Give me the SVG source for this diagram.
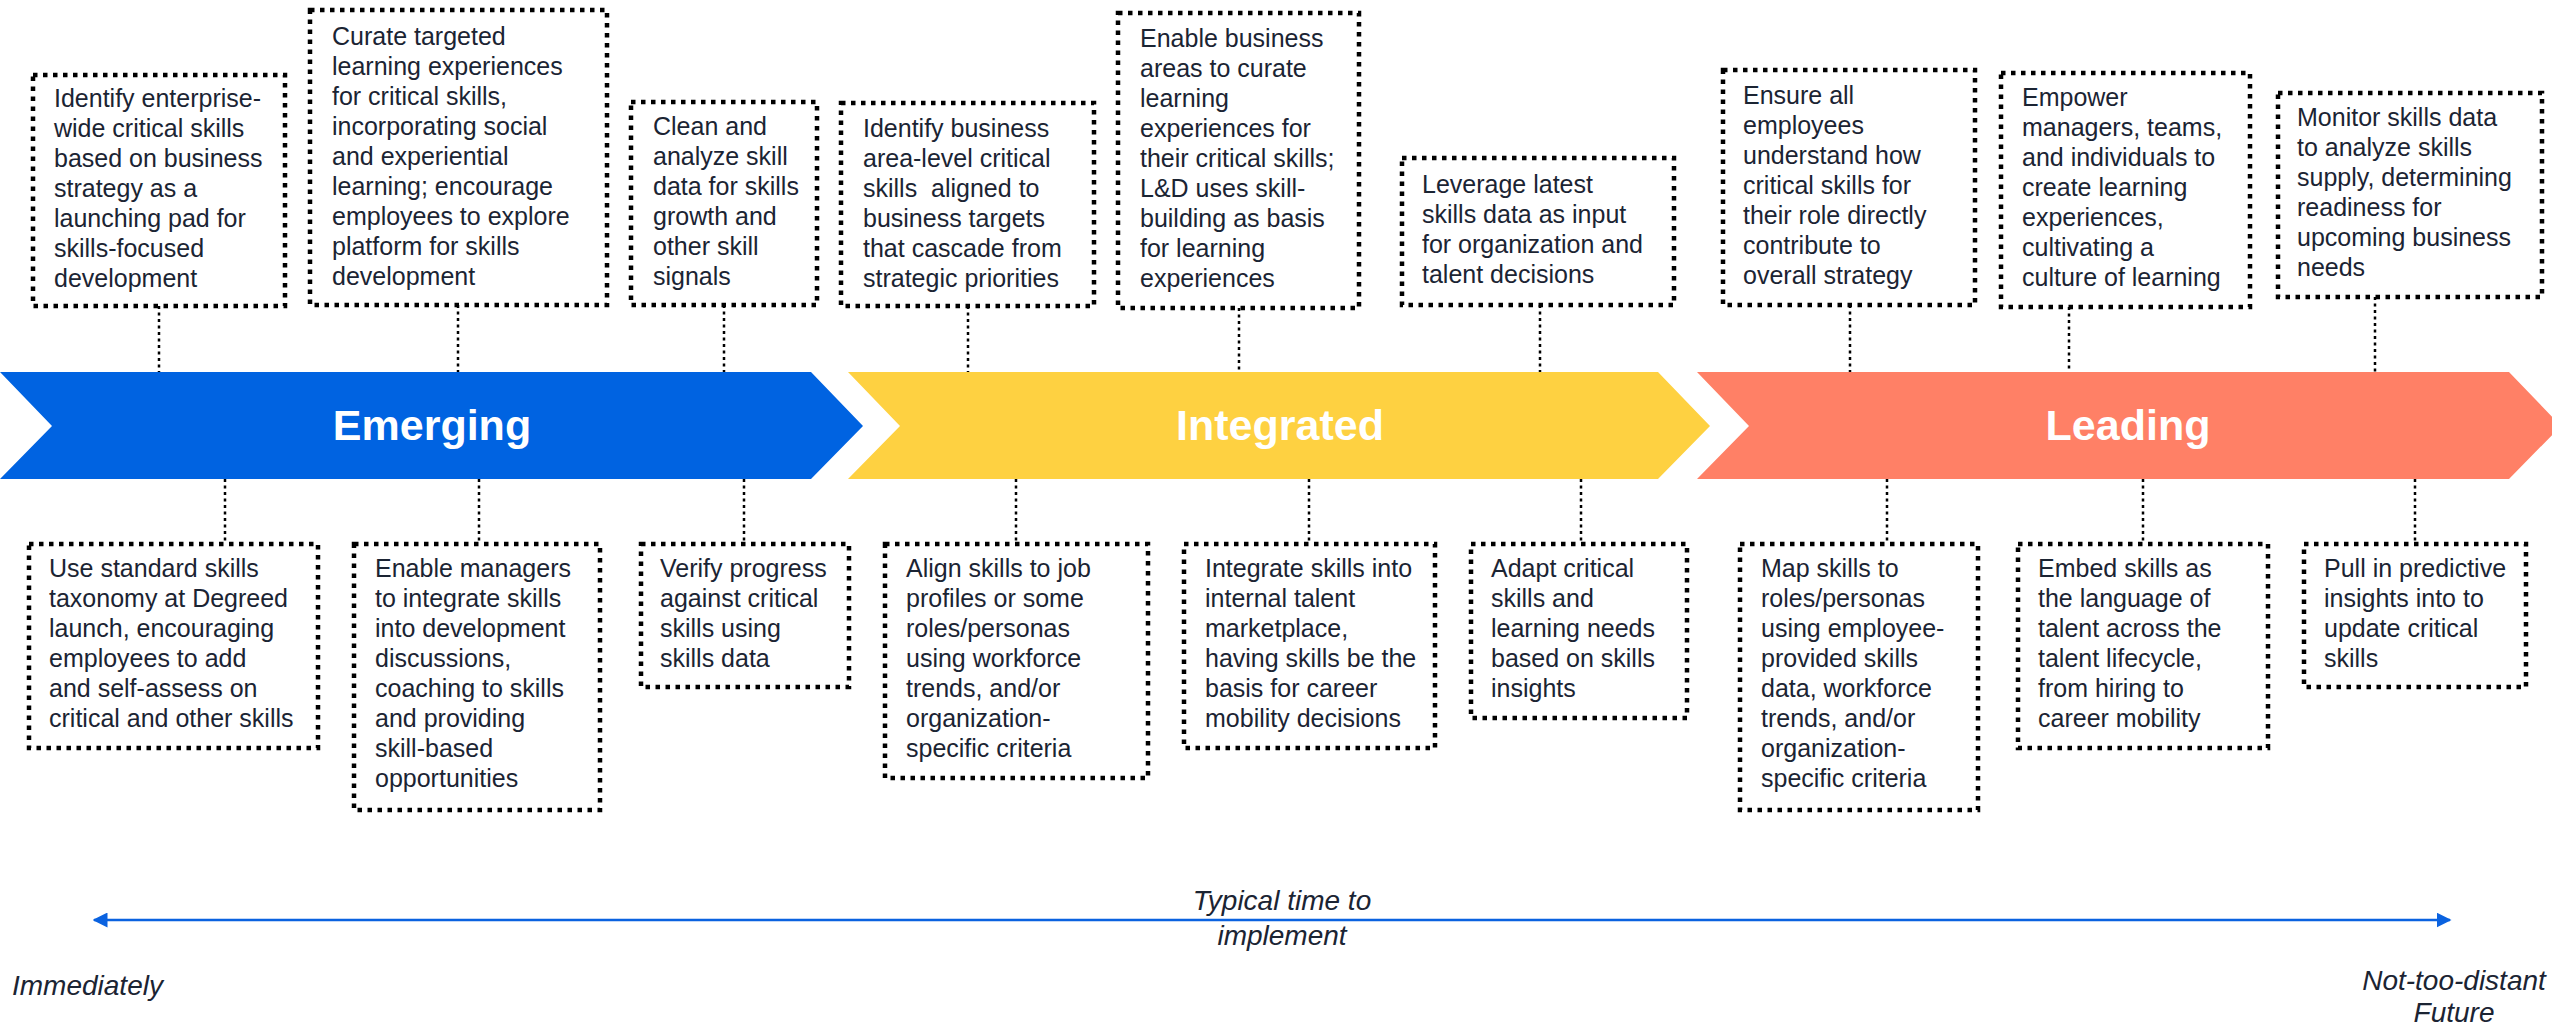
<svg xmlns="http://www.w3.org/2000/svg" width="2552" height="1028" viewBox="0 0 2552 1028">
<style>
.box{fill:#ffffff;stroke:#000000;stroke-width:4.5;stroke-dasharray:4.5 5.5}
.conn{stroke:#000000;stroke-width:2.5;stroke-dasharray:3 3.5;fill:none}
.t{font-family:"Liberation Sans",Arial,sans-serif;font-size:25px;fill:#1b2433}
.ch{font-family:"Liberation Sans",Arial,sans-serif;font-size:43px;font-weight:bold;fill:#ffffff;text-anchor:middle}
.it{font-family:"Liberation Sans",Arial,sans-serif;font-size:28px;font-style:italic;fill:#1b2433}
</style>
<defs>
<marker id="ah" viewBox="0 0 10 10" refX="9" refY="5" markerWidth="6" markerHeight="6" orient="auto-start-reverse" markerUnits="strokeWidth">
<path d="M0,0 L10,5 L0,10 z" fill="#0a62e0"/>
</marker>
</defs>

<g id="chevrons">
<g id="emerging"><polygon points="0,372 811,372 863,426 811,479 0,479 52,426" fill="#0063e1"/><text class="ch" x="432" y="440">Emerging</text></g>
<g id="integrated"><polygon points="848,372 1658,372 1710,426 1658,479 848,479 900,426" fill="#fed141"/><text class="ch" x="1280" y="440">Integrated</text></g>
<g id="leading"><polygon points="1697,372 2509,372 2561,426 2509,479 1697,479 1749,426" fill="#ff8066"/><text class="ch" x="2128" y="440">Leading</text></g>
</g>

<g id="connectors">
<line class="conn" x1="159" y1="306" x2="159" y2="372"/>
<line class="conn" x1="458" y1="305" x2="458" y2="372"/>
<line class="conn" x1="724" y1="305" x2="724" y2="372"/>
<line class="conn" x1="968" y1="306" x2="968" y2="372"/>
<line class="conn" x1="1239" y1="308" x2="1239" y2="372"/>
<line class="conn" x1="1540" y1="305" x2="1540" y2="372"/>
<line class="conn" x1="1850" y1="305" x2="1850" y2="372"/>
<line class="conn" x1="2069" y1="307" x2="2069" y2="372"/>
<line class="conn" x1="2375" y1="297" x2="2375" y2="372"/>
<line class="conn" x1="225" y1="479" x2="225" y2="544"/>
<line class="conn" x1="479" y1="479" x2="479" y2="544"/>
<line class="conn" x1="744" y1="479" x2="744" y2="544"/>
<line class="conn" x1="1016" y1="479" x2="1016" y2="544"/>
<line class="conn" x1="1309" y1="479" x2="1309" y2="544"/>
<line class="conn" x1="1581" y1="479" x2="1581" y2="544"/>
<line class="conn" x1="1887" y1="479" x2="1887" y2="544"/>
<line class="conn" x1="2143" y1="479" x2="2143" y2="544"/>
<line class="conn" x1="2415" y1="479" x2="2415" y2="544"/>
</g>

<g id="boxA"><rect class="box" x="33" y="75" width="252" height="231"/>
<text class="t"><tspan x="54" y="107">Identify enterprise-</tspan><tspan x="54" y="137">wide critical skills</tspan><tspan x="54" y="167">based on business</tspan><tspan x="54" y="197">strategy as a</tspan><tspan x="54" y="227">launching pad for</tspan><tspan x="54" y="257">skills-focused</tspan><tspan x="54" y="287">development</tspan></text></g>

<g id="boxB"><rect class="box" x="310" y="10" width="297" height="295"/>
<text class="t"><tspan x="332" y="45">Curate targeted</tspan><tspan x="332" y="75">learning experiences</tspan><tspan x="332" y="105">for critical skills,</tspan><tspan x="332" y="135">incorporating social</tspan><tspan x="332" y="165">and experiential</tspan><tspan x="332" y="195">learning; encourage</tspan><tspan x="332" y="225">employees to explore</tspan><tspan x="332" y="255">platform for skills</tspan><tspan x="332" y="285">development</tspan></text></g>

<g id="boxC"><rect class="box" x="631" y="102" width="186" height="203"/>
<text class="t"><tspan x="653" y="135">Clean and</tspan><tspan x="653" y="165">analyze skill</tspan><tspan x="653" y="195">data for skills</tspan><tspan x="653" y="225">growth and</tspan><tspan x="653" y="255">other skill</tspan><tspan x="653" y="285">signals</tspan></text></g>

<g id="boxD"><rect class="box" x="841" y="103" width="253" height="203"/>
<text class="t"><tspan x="863" y="137">Identify business</tspan><tspan x="863" y="167">area-level critical</tspan><tspan x="863" y="197" xml:space="preserve">skills  aligned to</tspan><tspan x="863" y="227">business targets</tspan><tspan x="863" y="257">that cascade from</tspan><tspan x="863" y="287">strategic priorities</tspan></text></g>

<g id="boxE"><rect class="box" x="1118" y="13" width="241" height="295"/>
<text class="t"><tspan x="1140" y="47">Enable business</tspan><tspan x="1140" y="77">areas to curate</tspan><tspan x="1140" y="107">learning</tspan><tspan x="1140" y="137">experiences for</tspan><tspan x="1140" y="167">their critical skills;</tspan><tspan x="1140" y="197">L&amp;D uses skill-</tspan><tspan x="1140" y="227">building as basis</tspan><tspan x="1140" y="257">for learning</tspan><tspan x="1140" y="287">experiences</tspan></text></g>

<g id="boxF"><rect class="box" x="1402" y="158" width="272" height="147"/>
<text class="t"><tspan x="1422" y="193">Leverage latest</tspan><tspan x="1422" y="223">skills data as input</tspan><tspan x="1422" y="253">for organization and</tspan><tspan x="1422" y="283">talent decisions</tspan></text></g>

<g id="boxG"><rect class="box" x="1723" y="70" width="252" height="235"/>
<text class="t"><tspan x="1743" y="104">Ensure all</tspan><tspan x="1743" y="134">employees</tspan><tspan x="1743" y="164">understand how</tspan><tspan x="1743" y="194">critical skills for</tspan><tspan x="1743" y="224">their role directly</tspan><tspan x="1743" y="254">contribute to</tspan><tspan x="1743" y="284">overall strategy</tspan></text></g>

<g id="boxH"><rect class="box" x="2001" y="73" width="249" height="234"/>
<text class="t"><tspan x="2022" y="106">Empower</tspan><tspan x="2022" y="136">managers, teams,</tspan><tspan x="2022" y="166">and individuals to</tspan><tspan x="2022" y="196">create learning</tspan><tspan x="2022" y="226">experiences,</tspan><tspan x="2022" y="256">cultivating a</tspan><tspan x="2022" y="286">culture of learning</tspan></text></g>

<g id="boxI"><rect class="box" x="2278" y="93" width="264" height="204"/>
<text class="t"><tspan x="2297" y="126">Monitor skills data</tspan><tspan x="2297" y="156">to analyze skills</tspan><tspan x="2297" y="186">supply, determining</tspan><tspan x="2297" y="216">readiness for</tspan><tspan x="2297" y="246">upcoming business</tspan><tspan x="2297" y="276">needs</tspan></text></g>

<g id="boxJ"><rect class="box" x="29" y="544" width="289" height="204"/>
<text class="t"><tspan x="49" y="577">Use standard skills</tspan><tspan x="49" y="607">taxonomy at Degreed</tspan><tspan x="49" y="637">launch, encouraging</tspan><tspan x="49" y="667">employees to add</tspan><tspan x="49" y="697">and self-assess on</tspan><tspan x="49" y="727">critical and other skills</tspan></text></g>

<g id="boxK"><rect class="box" x="354" y="544" width="246" height="266"/>
<text class="t"><tspan x="375" y="577">Enable managers</tspan><tspan x="375" y="607">to integrate skills</tspan><tspan x="375" y="637">into development</tspan><tspan x="375" y="667">discussions,</tspan><tspan x="375" y="697">coaching to skills</tspan><tspan x="375" y="727">and providing</tspan><tspan x="375" y="757">skill-based</tspan><tspan x="375" y="787">opportunities</tspan></text></g>

<g id="boxL"><rect class="box" x="641" y="544" width="208" height="143"/>
<text class="t"><tspan x="660" y="577">Verify progress</tspan><tspan x="660" y="607">against critical</tspan><tspan x="660" y="637">skills using</tspan><tspan x="660" y="667">skills data</tspan></text></g>

<g id="boxM"><rect class="box" x="885" y="544" width="263" height="234"/>
<text class="t"><tspan x="906" y="577">Align skills to job</tspan><tspan x="906" y="607">profiles or some</tspan><tspan x="906" y="637">roles/personas</tspan><tspan x="906" y="667">using workforce</tspan><tspan x="906" y="697">trends, and/or</tspan><tspan x="906" y="727">organization-</tspan><tspan x="906" y="757">specific criteria</tspan></text></g>

<g id="boxN"><rect class="box" x="1184" y="544" width="251" height="204"/>
<text class="t"><tspan x="1205" y="577">Integrate skills into</tspan><tspan x="1205" y="607">internal talent</tspan><tspan x="1205" y="637">marketplace,</tspan><tspan x="1205" y="667">having skills be the</tspan><tspan x="1205" y="697">basis for career</tspan><tspan x="1205" y="727">mobility decisions</tspan></text></g>

<g id="boxO"><rect class="box" x="1471" y="544" width="216" height="174"/>
<text class="t"><tspan x="1491" y="577">Adapt critical</tspan><tspan x="1491" y="607">skills and</tspan><tspan x="1491" y="637">learning needs</tspan><tspan x="1491" y="667">based on skills</tspan><tspan x="1491" y="697">insights</tspan></text></g>

<g id="boxP"><rect class="box" x="1740" y="544" width="238" height="266"/>
<text class="t"><tspan x="1761" y="577">Map skills to</tspan><tspan x="1761" y="607">roles/personas</tspan><tspan x="1761" y="637">using employee-</tspan><tspan x="1761" y="667">provided skills</tspan><tspan x="1761" y="697">data, workforce</tspan><tspan x="1761" y="727">trends, and/or</tspan><tspan x="1761" y="757">organization-</tspan><tspan x="1761" y="787">specific criteria</tspan></text></g>

<g id="boxQ"><rect class="box" x="2018" y="544" width="250" height="204"/>
<text class="t"><tspan x="2038" y="577">Embed skills as</tspan><tspan x="2038" y="607">the language of</tspan><tspan x="2038" y="637">talent across the</tspan><tspan x="2038" y="667">talent lifecycle,</tspan><tspan x="2038" y="697">from hiring to</tspan><tspan x="2038" y="727">career mobility</tspan></text></g>

<g id="boxR"><rect class="box" x="2304" y="544" width="222" height="143"/>
<text class="t"><tspan x="2324" y="577">Pull in predictive</tspan><tspan x="2324" y="607">insights into to</tspan><tspan x="2324" y="637">update critical</tspan><tspan x="2324" y="667">skills</tspan></text></g>

<g id="timeline">
<line x1="94" y1="920" x2="2450" y2="920" stroke="#0a62e0" stroke-width="2.5" marker-start="url(#ah)" marker-end="url(#ah)"/>
<text class="it" text-anchor="middle"><tspan x="1282" y="910">Typical time to</tspan><tspan x="1282" y="945">implement</tspan></text>
<text class="it" x="12" y="995">Immediately</text>
<text class="it" text-anchor="middle"><tspan x="2454" y="990">Not-too-distant</tspan><tspan x="2454" y="1022">Future</tspan></text>
</g>
</svg>
